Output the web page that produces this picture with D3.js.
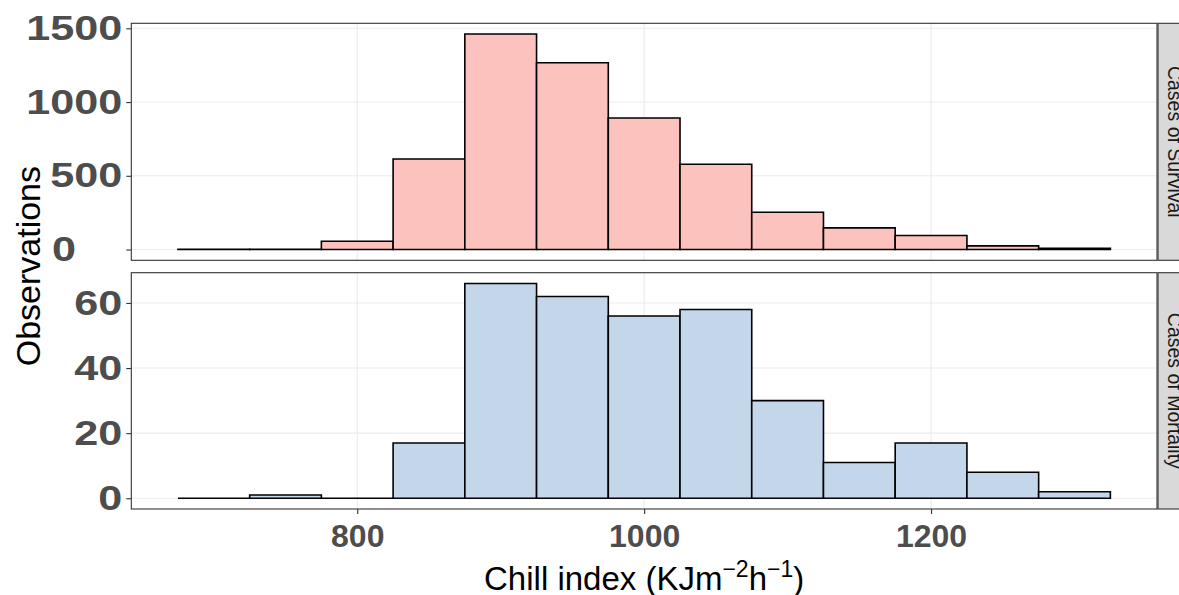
<!DOCTYPE html>
<html>
<head>
<meta charset="utf-8">
<script src="https://cdn.jsdelivr.net/npm/d3@7"></script>
<style>
  body { margin: 0; background: #fff; }
  svg { display: block; font-family: "Liberation Sans", Arial, sans-serif; }
</style>
</head>
<body>
<svg id="chart" width="1179" height="595"></svg>
<script>
// lower edges of the 50-wide bins
var binStarts = [675, 725, 775, 825, 875, 925, 975, 1025, 1075, 1125, 1175, 1225, 1275];
var binWidth = 50;
var survivalCounts = [1, 2, 56, 614, 1461, 1267, 892, 578, 253, 147, 95, 25, 9];
var mortalityCounts = [0, 1, 0, 17, 66, 62, 56, 58, 30, 11, 17, 8, 2];
var xTicks = [800, 1000, 1200];
var survivalTicks = [0, 500, 1000, 1500];
var mortalityTicks = [0, 20, 40, 60];
var panelNames = ["Cases of Survival", "Cases of Mortality"];

var svg = d3.select("#chart");
var left = 131.3, right = 1157;
var stripW = 36;

var xMin = binStarts[0], xMax = binStarts[binStarts.length - 1] + binWidth;
var xPad = (xMax - xMin) * 0.05;
var x = d3.scaleLinear().domain([xMin - xPad, xMax + xPad]).range([left, right]);

var panels = [
	{name: panelNames[0], counts: survivalCounts, ticks: survivalTicks, top: 23.3, bottom: 260.3, fill: "#fbc2be"},
	{name: panelNames[1], counts: mortalityCounts, ticks: mortalityTicks, top: 272.7, bottom: 509, fill: "#c3d6ea"}
];

panels.forEach(function(p, pi) {
	var maxC = d3.max(p.counts);
	var y = d3.scaleLinear()
		.domain([-maxC * 0.05, maxC * 1.05])
		.range([p.bottom, p.top]);

	var g = svg.append("g");
	g.append("rect")
		.attr("x", left).attr("y", p.top)
		.attr("width", right - left).attr("height", p.bottom - p.top)
		.attr("fill", "#fff");

	// grid
	g.selectAll(".vgrid").data(xTicks).enter().append("line")
		.attr("x1", function(d) { return x(d); }).attr("x2", function(d) { return x(d); })
		.attr("y1", p.top).attr("y2", p.bottom)
		.attr("stroke", "#ebebeb").attr("stroke-width", 1.1);
	g.selectAll(".hgrid").data(p.ticks).enter().append("line")
		.attr("x1", left).attr("x2", right)
		.attr("y1", function(d) { return y(d); }).attr("y2", function(d) { return y(d); })
		.attr("stroke", "#ebebeb").attr("stroke-width", 1.1);

	// bars as closed paths so empty bins still show their outline
	g.selectAll(".bar").data(p.counts).enter().append("path")
		.attr("d", function(d, i) {
			var x0 = x(binStarts[i]), x1 = x(binStarts[i] + binWidth);
			return "M" + x0 + "," + y(0) + "H" + x1 + "V" + y(d) + "H" + x0 + "Z";
		})
		.attr("fill", p.fill)
		.attr("stroke", "#000")
		.attr("stroke-width", 1.6);

	// border
	g.append("rect")
		.attr("x", left).attr("y", p.top)
		.attr("width", right - left).attr("height", p.bottom - p.top)
		.attr("fill", "none").attr("stroke", "#333").attr("stroke-width", 1.1);

	// y axis
	var ya = g.append("g")
		.attr("transform", "translate(" + left + ",0)")
		.call(d3.axisLeft(y).tickValues(p.ticks).tickFormat(d3.format("d")).tickSize(5).tickPadding(4));
	ya.select(".domain").remove();
	ya.selectAll(".tick line").attr("stroke", "#333").attr("stroke-width", 1.1);
	ya.selectAll(".tick text")
		.attr("fill", "#4d4d4d")
		.attr("textLength", function(d) { return String(d).length * 24; })
		.attr("lengthAdjust", "spacingAndGlyphs")
		.style("font-size", "35px")
		.style("font-weight", "bold");
	if (pi === 0) {
		// the zero label of the top panel sits to the left, under the "5" of 500
		ya.selectAll(".tick text").filter(function(d) { return d === 0; })
			.attr("x", 52 - left)
			.attr("text-anchor", "start");
	}

	// strip on the right
	g.append("rect")
		.attr("x", right + 1).attr("y", p.top)
		.attr("width", stripW).attr("height", p.bottom - p.top)
		.attr("fill", "#d9d9d9").attr("stroke", "#333").attr("stroke-width", 1.1);
	g.append("text")
		.attr("transform", "translate(" + (right + 11) + "," + ((p.top + p.bottom) / 2) + ") rotate(90)")
		.attr("text-anchor", "middle")
		.attr("fill", "#1a1a1a")
		.style("font-size", "19.5px")
		.text(p.name);

	if (pi === 1) {
		var xa = g.append("g")
			.attr("transform", "translate(0," + p.bottom + ")")
			.call(d3.axisBottom(x).tickValues(xTicks).tickFormat(d3.format("d")).tickSize(5).tickPadding(10));
		xa.select(".domain").remove();
		xa.selectAll(".tick line").attr("stroke", "#333").attr("stroke-width", 1.1);
		xa.selectAll(".tick text")
			.attr("fill", "#4d4d4d")
			.style("font-size", "32px")
			.style("font-weight", "bold");
	}
});

// axis titles
var xt = svg.append("text")
	.attr("x", (left + right) / 2)
	.attr("y", 590)
	.attr("text-anchor", "middle")
	.attr("fill", "#000")
	.style("font-size", "33px");
xt.append("tspan").text("Chill index (KJm");
xt.append("tspan").attr("dy", -13).style("font-size", "23px").text("\u22122");
xt.append("tspan").attr("dy", 13).text("h");
xt.append("tspan").attr("dy", -13).style("font-size", "23px").text("\u22121");
xt.append("tspan").attr("dy", 13).text(")");

svg.append("text")
	.attr("transform", "translate(40," + ((23.3 + 509) / 2) + ") rotate(-90)")
	.attr("text-anchor", "middle")
	.attr("fill", "#000")
	.style("font-size", "34px")
	.text("Observations");
</script>
</body>
</html>
